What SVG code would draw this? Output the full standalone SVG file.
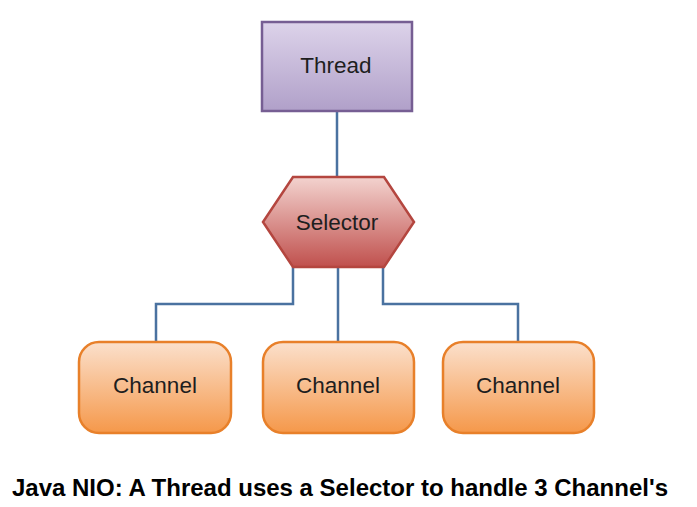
<svg xmlns="http://www.w3.org/2000/svg" width="697" height="507" viewBox="0 0 697 507">
<defs>
<linearGradient id="gThread" x1="0" y1="0" x2="0" y2="1"><stop offset="0" stop-color="#ddd3ea"/><stop offset="1" stop-color="#b0a0c9"/></linearGradient>
<linearGradient id="gSel" x1="0" y1="0" x2="0" y2="1"><stop offset="0" stop-color="#f3d3cf"/><stop offset="1" stop-color="#c0504d"/></linearGradient>
<linearGradient id="gCh" x1="0" y1="0" x2="0" y2="1"><stop offset="0" stop-color="#fbe0cc"/><stop offset="1" stop-color="#f5984a"/></linearGradient>
</defs>
<style>
.lbl{font-family:"Liberation Sans",Arial,sans-serif;font-size:22.5px;fill:#1e1e1e;text-anchor:middle}
.conn{fill:none;stroke:#4a72a0;stroke-width:2.5}
.ch{fill:url(#gCh);stroke:#e8802a;stroke-width:2.5}
.cap{font-family:"Liberation Sans",Arial,sans-serif;font-size:23.5px;font-weight:bold;fill:#000}
</style>
<rect width="697" height="507" fill="#fff"/>
<g id="connectors">
<path class="conn" d="M337,111 V178"/>
<path class="conn" d="M293,267 V304 H156 V342"/>
<path class="conn" d="M338,267 V342"/>
<path class="conn" d="M383,267 V304 H518 V342"/>
</g>
<g id="thread">
<rect x="262" y="22" width="150" height="89" fill="url(#gThread)" stroke="#765e93" stroke-width="2.5"/>
<text class="lbl" x="336" y="73">Thread</text>
</g>
<g id="selector">
<polygon points="293,177 384,177 414,222 384,267 293,267 263,222" fill="url(#gSel)" stroke="#b4463f" stroke-width="2.5"/>
<text class="lbl" x="337" y="230">Selector</text>
</g>
<g id="channel1">
<rect class="ch" x="79" y="342" width="152" height="91" rx="20"/>
<text class="lbl" x="155" y="393">Channel</text>
</g>
<g id="channel2">
<rect class="ch" x="263" y="342" width="151" height="91" rx="20"/>
<text class="lbl" x="338" y="393">Channel</text>
</g>
<g id="channel3">
<rect class="ch" x="443" y="342" width="151" height="91" rx="20"/>
<text class="lbl" x="518" y="393">Channel</text>
</g>
<text class="cap" x="12" y="496" textLength="656" lengthAdjust="spacingAndGlyphs">Java NIO: A Thread uses a Selector to handle 3 Channel's</text>
</svg>
